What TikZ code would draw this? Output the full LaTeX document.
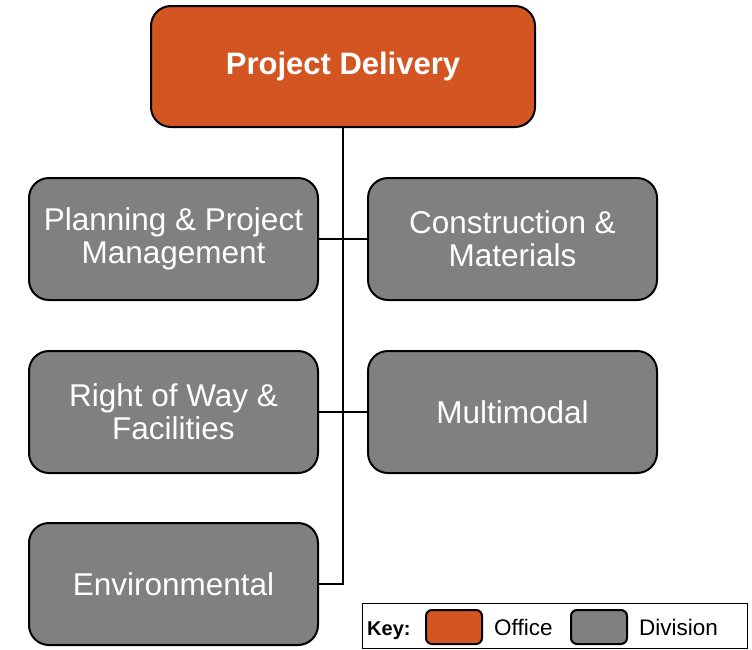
\documentclass[tikz,border=0pt]{standalone}
\usepackage{fontspec}
\setmainfont{Liberation Sans}
\usepackage{tikz}
\usetikzlibrary{positioning}

\definecolor{officeorange}{HTML}{D35622}
\definecolor{divisiongray}{HTML}{808080}

\tikzset{
    office/.style={draw=black, line width=2pt, rounded corners=20pt, fill=officeorange,
        text=white, font=\fontsize{31}{34}\selectfont\bfseries, align=center,
        minimum width=384pt, minimum height=121pt, inner sep=0pt},
    division/.style={draw=black, line width=2pt, rounded corners=20pt, fill=divisiongray,
        text=white, font=\fontsize{31.5}{33}\selectfont, align=center,
        minimum width=289pt, minimum height=122pt, inner sep=0pt},
    swatch/.style={draw=black, line width=2pt, rounded corners=6pt,
        minimum width=56pt, minimum height=34pt, inner sep=0pt},
    keytext/.style={font=\fontsize{22.5}{24}\selectfont, inner sep=0pt, anchor=base west},
    link/.style={draw=black, line width=2pt}
}

\begin{document}
\begin{tikzpicture}[x=1pt, y=-1pt]
    \useasboundingbox (0,0) rectangle (752,649);

    % Office
    \node[office] (delivery) at (343, 66.5) {Project Delivery};

    % Divisions
    \node[division] (planning) at (173.5, 239) {Planning \& Project\\Management};
    \node[division] (construction) at (512.5, 239) {Construction \&\\Materials};
    \node[division] (rightofway) at (173.5, 412) {Right of Way \&\\Facilities};
    \node[division] (multimodal) at (512.5, 412) {Multimodal};
    \node[division] (environmental) at (173.5, 584) {Environmental};

    % Connectors
    \draw[link] (delivery.south) -- (delivery.south |- environmental.east) -- (environmental.east);
    \draw[link] (planning.east) -- (construction.west);
    \draw[link] (rightofway.east) -- (multimodal.west);

    % Key
    \draw[line width=1pt] (362, 603) rectangle (747, 648.5);
    \node[keytext, font=\fontsize{20}{22}\selectfont\bfseries] (keylabel) at (367, 635) {Key:};
    \node[swatch, fill=officeorange] (keyoffice) at (454, 627) {};
    \node[keytext] (officelabel) at (494, 635) {Office};
    \node[swatch, fill=divisiongray] (keydivision) at (599, 627) {};
    \node[keytext] (divisionlabel) at (639, 635) {Division};
\end{tikzpicture}
\end{document}
